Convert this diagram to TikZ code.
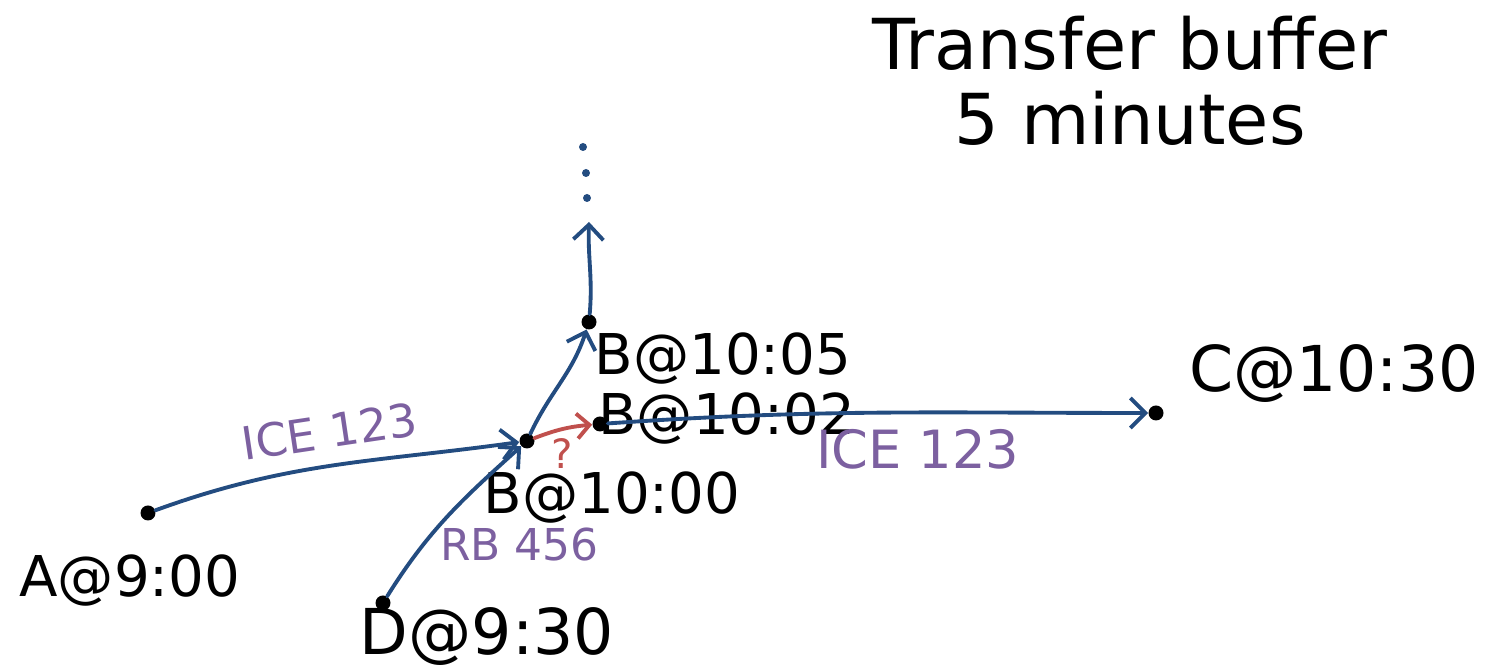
\documentclass[tikz,border=0pt]{standalone}
\usepackage{fontspec}
\setmainfont{DejaVu Sans}
\usetikzlibrary{arrows.meta, positioning}

\definecolor{inkblue}{RGB}{35,76,128}
\definecolor{inkpurple}{RGB}{124,96,160}
\definecolor{inkred}{RGB}{192,80,77}

\begin{document}
\begin{tikzpicture}[
    x=0.02cm, y=0.02cm,
    stop/.style={circle, fill=black, inner sep=0pt, minimum size=3mm},
    tag/.style={inner sep=0pt, font=\fontsize{32}{36}\selectfont},
    bigtag/.style={inner sep=0pt, font=\fontsize{36}{40}\selectfont},
    train/.style={inner sep=0pt, text=inkpurple, font=\fontsize{26}{30}\selectfont},
    ride/.style={-{Straight Barb[length=3mm, width=6mm]}, line width=2.2pt, draw=inkblue, line cap=round},
    change/.style={-{Straight Barb[length=2.5mm, width=5mm]}, line width=2.2pt, draw=inkred, line cap=round}
]
\useasboundingbox (0,0) rectangle (1495,671);

% Stations and times
\node[stop] (A) at (148,158) {};
\node[stop] (D) at (383,68) {};
\node[stop] (B0) at (527,230) {};
\node[stop] (B2) at (600,247) {};
\node[stop] (B5) at (589,349) {};
\node[stop] (C) at (1156,258) {};
\coordinate (next) at (589,449);

\node[tag, below=0.67cm of A, xshift=-0.36cm] (lA) {A@9:00};
\node[bigtag, below=-0.08cm of D, xshift=2.08cm] (lD) {D@9:30};
\node[tag, below=0.45cm of B0, xshift=1.7cm] (lB0) {B@10:00};
\node[tag, right=-0.2cm of B2, yshift=0.1cm] (lB2) {B@10:02};
\node[tag, below=0.05cm of B5, xshift=2.68cm] (lB5) {B@10:05};
\node[bigtag, above=0.05cm of C, xshift=3.56cm] (lC) {C@10:30};

% Continuation dots
\foreach \i/\px/\py in {1/583/524, 2/586/498, 3/587/473}
  \node[circle, fill=inkblue, inner sep=0pt, minimum size=1.6mm] (dot\i) at (\px,\py) {};

% Connections
\draw[ride] (A) to[out=20, in=188] node[midway, above=0.3cm, sloped, train] (ice1) {ICE 123} (B0);
\draw[ride] (D) to[out=58, in=-138] node[pos=0.3, right=0.3cm, train, font=\fontsize{25}{28}\selectfont] (rb) {RB 456} (B0);
\draw[ride] (B0) to[out=65, in=-108] (B5);
\draw[ride] (B2) to[out=4, in=180] node[midway, below=0.3cm, xshift=0.8cm, train, font=\fontsize{30}{34}\selectfont] (ice2) {ICE 123} (C);
\draw[ride] (B5) to[out=85, in=-92] (next);

% Transfer
\draw[change] (B0) to[bend left=8] node[below=4pt, inner sep=0pt, text=inkred, font=\fontsize{23}{26}\selectfont] (q) {?} (B2);

% Note
\node[align=center, inner sep=0pt, font=\fontsize{40}{43}\selectfont] (title) at (1130,590) {Transfer buffer\\5 minutes};

\end{tikzpicture}
\end{document}
